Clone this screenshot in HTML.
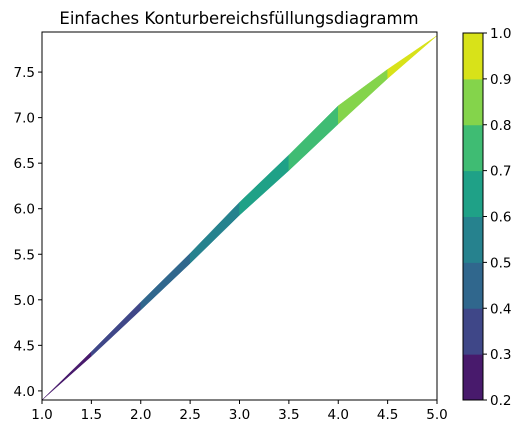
<!DOCTYPE html>
<html><head><meta charset="utf-8"><style>
body{margin:0;background:#fff;font-family:"Liberation Sans","DejaVu Sans",sans-serif;}
svg text{font-family:"DejaVu Sans","Liberation Sans",sans-serif;}
</style></head><body>
<svg id="chart" width="523" height="435">
<text x="239" y="24" font-size="16.5" text-anchor="middle">Einfaches Konturbereichsfüllungsdiagramm</text>
<g id="plot"></g>
<g id="cbar"></g>
</svg>
<script>
const xs=[1,1.5,2,2.5,3,3.5,4,4.5,5];
const yUpper=[3.9,4.43,4.975,5.51,6.07,6.59,7.13,7.53,7.9];
const yLower=[3.9,4.38,4.888,5.40,5.93,6.42,6.93,7.43,7.9];
const levels=[0.2,0.3,0.4,0.5,0.6,0.7,0.8,0.9,1.0];
const bandColors=["#481a6c","#3f4788","#30678d","#26828e","#1fa187","#3fbc73","#84d44b","#d8e219"];
const xTicks=[1.0,1.5,2.0,2.5,3.0,3.5,4.0,4.5,5.0];
const yTicks=[4.0,4.5,5.0,5.5,6.0,6.5,7.0,7.5];
const NS="http://www.w3.org/2000/svg";
const L=42,R=437,T=32,B=400;
const X0=1,X1=5,Y0=3.9,Y1=7.94;
const sx=v=>L+(v-X0)/(X1-X0)*(R-L);
const sy=v=>B-(v-Y0)/(Y1-Y0)*(B-T);
const zOf=x=>0.2+0.2*(x-1);
function mk(tag,attrs,parent){const e=document.createElementNS(NS,tag);for(const k in attrs)e.setAttribute(k,attrs[k]);parent.appendChild(e);return e;}
const plot=document.getElementById('plot');
for(let i=0;i<xs.length-1;i++){
  const zm=zOf((xs[i]+xs[i+1])/2);
  let b=0;for(let k=0;k<levels.length-1;k++){if(zm>=levels[k])b=k;}
  const pts=[[sx(xs[i]),sy(yUpper[i])],[sx(xs[i+1]),sy(yUpper[i+1])],[sx(xs[i+1]),sy(yLower[i+1])],[sx(xs[i]),sy(yLower[i])]].map(p=>p.join(',')).join(' ');
  const p=mk('polygon',{points:pts,fill:bandColors[b],stroke:bandColors[b],'stroke-width':0.5},plot);
  
  
}
const frame=mk('rect',{x:L,y:T,width:R-L,height:B-T,fill:'none',stroke:'#000','stroke-width':1},plot);


xTicks.forEach(v=>{
  const x=sx(v);
  mk('line',{x1:x,x2:x,y1:B,y2:B+4,stroke:'#000'},plot);
  const t=mk('text',{x:x,y:B+19,'font-size':13.5,'text-anchor':'middle'},plot);
  t.textContent=v.toFixed(1);
  
  
});
yTicks.forEach(v=>{
  const y=sy(v);
  mk('line',{x1:L-4,x2:L,y1:y,y2:y,stroke:'#000'},plot);
  const t=mk('text',{x:L-7,y:y+5,'font-size':13.5,'text-anchor':'end'},plot);
  t.textContent=v.toFixed(1);
  
  
});
const cb=document.getElementById('cbar');
const CL=463,CR=483,CT=33,CB=400;
const cy=v=>CB-(v-levels[0])/(levels[levels.length-1]-levels[0])*(CB-CT);
for(let k=0;k<bandColors.length;k++){
  const r=mk('rect',{x:CL,y:cy(levels[k+1]),width:CR-CL,height:cy(levels[k])-cy(levels[k+1])+0.5,fill:bandColors[k]},cb);
  
  
}
mk('rect',{x:CL,y:CT,width:CR-CL,height:CB-CT,fill:'none',stroke:'#000','stroke-width':1},cb);
levels.forEach(v=>{
  const y=cy(v);
  mk('line',{x1:CR,x2:CR+4,y1:y,y2:y,stroke:'#000'},cb);
  const t=mk('text',{x:CR+7,y:y+5,'font-size':13.5},cb);
  t.textContent=v.toFixed(1);
  
  
});
</script>
</body></html>
